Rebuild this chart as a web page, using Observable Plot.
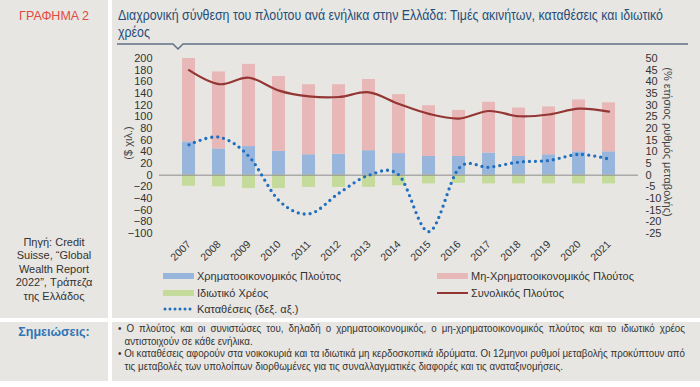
<!DOCTYPE html>
<html><head><meta charset="utf-8">
<script src="https://cdn.jsdelivr.net/npm/d3@7"></script>
<script src="https://cdn.jsdelivr.net/npm/@observablehq/plot@0.6"></script>
<style>
body{margin:0;background:#fff;width:700px;height:387px;overflow:hidden;font-family:"Liberation Sans",Arial,sans-serif;}
#root{position:relative;width:700px;height:387px;background:#fff;}
.box{position:absolute;background:#e8e6e2;}
.abs{position:absolute;}
#title{left:118px;top:7px;font-size:14px;line-height:17px;color:#1f4e79;white-space:nowrap;transform-origin:0 0;}
#fig{left:0;top:9px;width:108px;text-align:center;font-size:12.5px;color:#e5483e;}
#source{left:0;top:236px;width:108px;text-align:center;font-size:11px;line-height:13.4px;color:#333;}
#notesHead{left:0;top:325px;width:108px;text-align:center;font-size:12.5px;font-weight:bold;color:#2e75b6;}
#notes{left:118px;top:323px;font-size:10.4px;line-height:12.6px;color:#333;transform-origin:0 0;}
#notes .ln{white-space:nowrap;}
#notes .j{text-align:justify;text-align-last:justify;}
#notes .ind{padding-left:7px;}
#chart{left:112px;top:48px;}
.ylab{font-size:11px;color:#444;white-space:nowrap;}
.leg{font-size:11px;color:#333;display:flex;align-items:center;white-space:nowrap;}
</style></head><body>
<div id="root">
 <div class="box" style="left:0;top:0;width:108px;height:318px"></div>
 <div class="box" style="left:112px;top:0;width:588px;height:318px"></div>
 <div class="box" style="left:0;top:322px;width:108px;height:59px"></div>
 <div class="box" style="left:112px;top:322px;width:588px;height:59px"></div>
 <div id="fig" class="abs">ΓΡΑΦΗΜΑ 2</div>
 <div id="title" class="abs"><span id="t1">Διαχρονική σύνθεση του πλούτου ανά ενήλικα στην Ελλάδα: Τιμές ακινήτων, καταθέσεις και ιδιωτικό</span><br>χρέος</div>
 <svg class="abs" style="left:0;top:0" width="700" height="60">
  <polyline points="117,44 173,44 178,49 183,44 688,44" fill="none" stroke="#5f7288" stroke-width="1.5"/>
 </svg>
 <div id="source" class="abs">Πηγή: Credit<br>Suisse, “Global<br>Wealth Report<br>2022”, Τράπεζα<br>της Ελλάδος</div>
 <div id="chart" class="abs"></div>
 <div class="abs ylab" style="left:128px;top:143px;transform:translate(-50%,-50%) rotate(-90deg)">($ χιλ.)</div>
 <div class="abs ylab" style="left:668px;top:142px;transform:translate(-50%,-50%) rotate(90deg)">(% ετήσιος ρυθμός μεταβολής)</div>
 <div id="legend"></div>
 <div id="notesHead" class="abs">Σημειώσεις:</div>
 <div id="notes" class="abs">
  <div class="ln j" id="n1">• Ο πλούτος και οι συνιστώσες του, δηλαδή ο χρηματοοικονομικός, ο μη-χρηματοοικονομικός πλούτος και το ιδιωτικό χρέος</div>
  <div class="ln ind">αντιστοιχούν σε κάθε ενήλικα.</div>
  <div class="ln" id="n3"><span id="n3s">• Οι καταθέσεις αφορούν στα νοικοκυριά και τα ιδιωτικά μη κερδοσκοπικά ιδρύματα. Οι 12μηνοι ρυθμοί μεταβολής προκύπτουν από</span></div>
  <div class="ln ind">τις μεταβολές των υπολοίπων διορθωμένες για τις συναλλαγματικές διαφορές και τις αναταξινομήσεις.</div>
 </div>
</div>
<script>
const years = ["2007","2008","2009","2010","2011","2012","2013","2014","2015","2016","2017","2018","2019","2020","2021"];
const financial    = [57, 45, 49, 41, 35, 36, 42, 37, 32, 32, 38, 32, 35, 40, 40];
const nonFinancial = [143, 132, 141, 128, 120, 119, 122, 101, 87, 79, 87, 83, 82, 89, 84];
const privateDebt  = [-19, -20, -23, -23, -21, -21, -21, -18, -15, -14, -15, -15, -15, -15, -15];
const netWealth    = [180, 156, 167, 145, 135, 134, 142, 122, 105, 97, 110, 101, 104, 114, 109];
const deposits     = [13, 16.3, 8, -10.9, -16.6, -7.7, 0, 0, -24.2, 3, 3.4, 5.6, 6.3, 8.9, 6.9];
const leftTicks  = [-100,-80,-60,-40,-20,0,20,40,60,80,100,120,140,160,180,200];
const rightTicks = [-25,-20,-15,-10,-5,0,5,10,15,20,25,30,35,40,45,50];
const legendItems = [
  {label:"Χρηματοοικονομικός Πλούτος", kind:"bar", color:"#98b5dc"},
  {label:"Μη-Χρηματοοικονομικός Πλούτος", kind:"bar", color:"#e8b7b7"},
  {label:"Ιδιωτικό Χρέος", kind:"bar", color:"#c5db9c"},
  {label:"Συνολικός Πλούτος", kind:"line", color:"#943634"},
  {label:"Καταθέσεις (δεξ. αξ.)", kind:"dot", color:"#1f6fc0"}
];
const K = 4; // right axis (-25..50) mapped onto left axis (-100..200)

const rows = years.map((y,i)=>({year:y, fin:financial[i], non:nonFinancial[i], debt:privateDebt[i], net:netWealth[i], dep:deposits[i]}));

const chart = Plot.plot({
  width:588, height:218,
  marginLeft:47, marginRight:62, marginTop:10, marginBottom:33,
  style:{background:"transparent", fontFamily:"Liberation Sans, Arial, sans-serif", fontSize:"11px", color:"#333", overflow:"visible"},
  x:{domain:years, padding:0.58, axis:null},
  y:{domain:[-100,200], axis:null},
  marks:[
    Plot.barY(rows,{x:"year", y1:0, y2:"fin", fill:"#98b5dc"}),
    Plot.barY(rows,{x:"year", y1:"fin", y2:d=>d.fin+d.non, fill:"#e8b7b7"}),
    Plot.barY(rows,{x:"year", y1:0, y2:"debt", fill:"#c5db9c"}),
    Plot.ruleY([0],{stroke:"#8c8c8c", strokeWidth:1}),
    Plot.line(rows,{x:"year", y:"net", stroke:"#943634", strokeWidth:2.2, curve:"cardinal"}),
    Plot.line(rows,{x:"year", y:d=>d.dep*K, stroke:"#1f6fc0", strokeWidth:3.3, strokeDasharray:"0 6", strokeLinecap:"round", curve:"cardinal"}),
    Plot.axisY(leftTicks,{anchor:"left", tickSize:0, tickPadding:7, fontSize:11}),
    Plot.axisY(rightTicks.map(v=>v*K),{anchor:"right", tickSize:0, tickPadding:7, tickFormat:v=>String(v/K), fontSize:11}),
    Plot.axisX(years,{anchor:"bottom", tickSize:0, tickPadding:9, tickRotate:-45, fontSize:10.5, label:null})
  ]
});
document.getElementById("chart").appendChild(chart);

// legend
const pos = [[163,276],[437,276],[163,293],[437,293],[163,309]];
const leg = document.getElementById("legend");
legendItems.forEach((it,i)=>{
  const d = document.createElement("div");
  d.className = "abs leg";
  d.style.left = pos[i][0]+"px";
  d.style.top = (pos[i][1]-7)+"px";
  d.style.height = "14px";
  let sw;
  if(it.kind==="bar") sw = `<svg width="32" height="14"><rect x="0" y="4" width="31" height="6" fill="${it.color}"/></svg>`;
  else if(it.kind==="line") sw = `<svg width="32" height="14"><line x1="0" x2="31" y1="7" y2="7" stroke="${it.color}" stroke-width="2"/></svg>`;
  else sw = `<svg width="32" height="14"><line x1="2" x2="31" y1="7" y2="7" stroke="${it.color}" stroke-width="3" stroke-dasharray="0 5" stroke-linecap="round"/></svg>`;
  d.innerHTML = sw + `<span style="margin-left:2px">${it.label}</span>`;
  leg.appendChild(d);
});

// condensed title: first line spans the header width
const t1w = document.getElementById("t1").getBoundingClientRect().width;
const ft = Math.min(1, 545 / t1w);
document.getElementById("title").style.transform = `scaleX(${ft})`;

// fit notes block (condensed text) into the notes area width
const notes = document.getElementById("notes");
const natural = document.getElementById("n3s").getBoundingClientRect().width;
const target = 567;
const f = Math.min(1, target / natural);
notes.style.width = (target / f) + "px";
notes.style.transform = `scaleX(${f})`;
</script>
</body></html>
